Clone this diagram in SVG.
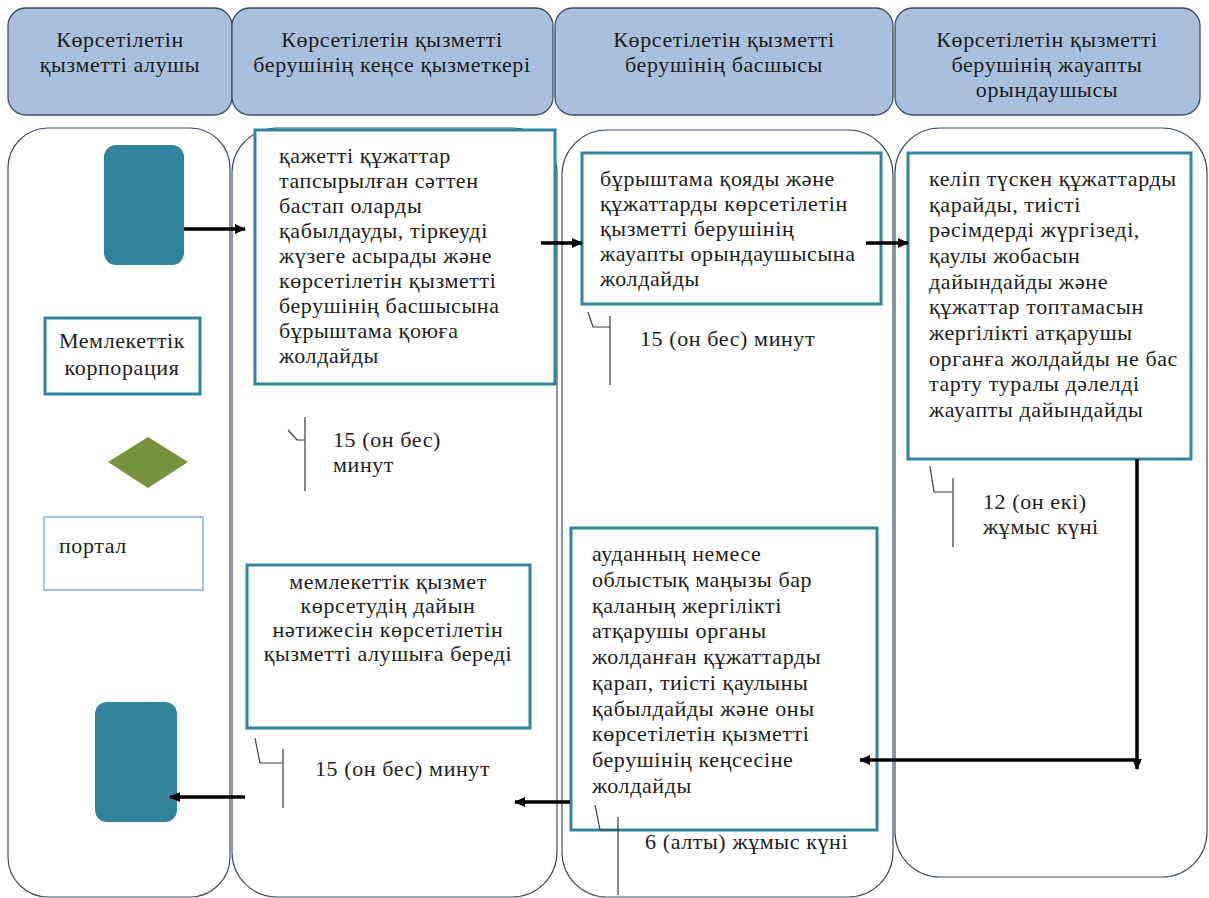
<svg xmlns="http://www.w3.org/2000/svg" width="1209" height="898" viewBox="0 0 1209 898">
<defs>
<marker id="ah" markerUnits="userSpaceOnUse" markerWidth="12" markerHeight="12" refX="10" refY="6" orient="auto">
<path d="M0,1 L11,6 L0,11 Z" fill="#000"/>
</marker>
<style>
.hdr{fill:#a8bfdd;stroke:#3e4e60;stroke-width:1.3}
.lane{fill:#fff;stroke:#3e4e60;stroke-width:1.2}
.box{fill:#fff;stroke:#31859c;stroke-width:3}
.teal{fill:#31849b}
text{font-family:'Liberation Serif','DejaVu Serif','Times New Roman',serif;font-size:22px;letter-spacing:0.6px;fill:#1c1c1c}
.c{text-anchor:middle}
.ann{fill:none;stroke:#3a3a3a;stroke-width:1.2}
.con{fill:none;stroke:#000;stroke-width:3.5}
</style>
</defs>
<rect width="1209" height="898" fill="#fff"/>
<g id="headers">
<g id="h1"><rect class="hdr" x="8" y="8" width="224" height="107" rx="18"/><text class="c" x="120" y="47">Көрсетілетін</text><text class="c" x="120" y="72">қызметті алушы</text></g>
<g id="h2"><rect class="hdr" x="232" y="8" width="321" height="107" rx="18"/><text class="c" x="392" y="47">Көрсетілетін қызметті</text><text class="c" x="392" y="72">берушінің кеңсе қызметкері</text></g>
<g id="h3"><rect class="hdr" x="555" y="8" width="338" height="107" rx="18"/><text class="c" x="724" y="47">Көрсетілетін қызметті</text><text class="c" x="724" y="72">берушінің басшысы</text></g>
<g id="h4"><rect class="hdr" x="895" y="8" width="305" height="107" rx="18"/><text class="c" x="1047" y="47">Көрсетілетін қызметті</text><text class="c" x="1047" y="72">берушінің жауапты</text><text class="c" x="1047" y="97">орындаушысы</text></g>
</g>
<g id="lanes">
<rect class="lane" x="8" y="128" width="222" height="769" rx="40"/>
<rect class="lane" x="232" y="128" width="325" height="769" rx="45"/>
<rect class="lane" x="562" y="130" width="331" height="767" rx="45"/>
<rect class="lane" x="895" y="128" width="312" height="749" rx="45"/>
</g>
<g id="start"><rect class="teal" x="104" y="145" width="80" height="120" rx="12"/></g>
<g id="corp"><rect class="box" x="45" y="318" width="155" height="76"/><text class="c" x="122" y="348">Мемлекеттік</text><text class="c" x="122" y="375">корпорация</text></g>
<g id="diamond"><polygon points="148,437 188,462 148,488 108,462" fill="#76923c"/></g>
<g id="portal"><rect x="44" y="517" width="159" height="73" fill="#fff" stroke="#4f81bd" stroke-width="1"/><text x="59" y="553">портал</text></g>
<g id="end"><rect class="teal" x="95" y="702" width="82" height="120" rx="12"/></g>
<g id="boxA"><rect class="box" x="255" y="130" width="300" height="254"/>
<text x="279" y="163">қажетті құжаттар</text>
<text x="279" y="188">тапсырылған  сәттен</text>
<text x="279" y="213">бастап оларды</text>
<text x="279" y="238">қабылдауды, тіркеуді</text>
<text x="279" y="263">жүзеге асырады  және</text>
<text x="279" y="288">көрсетілетін қызметті</text>
<text x="279" y="313">берушінің басшысына</text>
<text x="279" y="338">бұрыштама қоюға</text>
<text x="279" y="363">жолдайды</text>
</g>
<g id="boxB"><rect class="box" x="582" y="153" width="299" height="151"/>
<text x="600" y="186">бұрыштама қояды және</text>
<text x="600" y="211">құжаттарды  көрсетілетін</text>
<text x="600" y="236">қызметті берушінің</text>
<text x="600" y="261">жауапты орындаушысына</text>
<text x="600" y="286">жолдайды</text>
</g>
<g id="boxC"><rect class="box" x="908" y="153" width="283" height="306"/>
<text x="929" y="186">келіп түскен құжаттарды</text>
<text x="929" y="212">қарайды, тиісті</text>
<text x="929" y="237">рәсімдерді жүргізеді,</text>
<text x="929" y="263">қаулы жобасын</text>
<text x="929" y="289">дайындайды және</text>
<text x="929" y="314">құжаттар топтамасын</text>
<text x="929" y="340">жергілікті  атқарушы</text>
<text x="929" y="366">органға жолдайды не бас</text>
<text x="929" y="391">тарту туралы дәлелді</text>
<text x="929" y="417">жауапты дайындайды</text>
</g>
<g id="boxD"><rect class="box" x="571" y="528" width="306" height="302"/>
<text x="592" y="561">ауданның немесе</text>
<text x="592" y="587">облыстық маңызы  бар</text>
<text x="592" y="613">қаланың жергілікті</text>
<text x="592" y="638">атқарушы органы</text>
<text x="592" y="664">жолданған құжаттарды</text>
<text x="592" y="690">қарап, тиісті қаулыны</text>
<text x="592" y="716">қабылдайды және оны</text>
<text x="592" y="741">көрсетілетін қызметті</text>
<text x="592" y="767">берушінің кеңсесіне</text>
<text x="592" y="793">жолдайды</text>
</g>
<g id="boxE"><rect class="box" x="247" y="565" width="283" height="163"/>
<text class="c" x="388" y="589">мемлекеттік қызмет</text>
<text class="c" x="388" y="613">көрсетудің дайын</text>
<text class="c" x="388" y="637">нәтижесін көрсетілетін</text>
<text class="c" x="388" y="661">қызметті алушыға береді</text>
</g>
<g id="annotations">
<path class="ann" d="M288,430 L297,440 L305,440 M305,417 V491"/>
<text x="333" y="447">15 (он бес)</text><text x="333" y="472">минут</text>
<path class="ann" d="M588,312 L593,327 L610,327 M610,316 V385"/>
<text x="640" y="346">15 (он бес) минут</text>
<path class="ann" d="M930,466 L934,492 L952,492 M953,478 V547"/>
<text x="983" y="509">12 (он екі)</text><text x="983" y="534">жұмыс күні</text>
<path class="ann" d="M595,805 L600,830 L617,830 M618,817 V895"/>
<text x="645" y="849">6 (алты) жұмыс күні</text>
<path class="ann" d="M255,738 L260,763 L282,763 M283,749 V808"/>
<text x="315" y="776">15 (он бес) минут</text>
</g>
<g id="connectors">
<path class="con" d="M184,229 H245" marker-end="url(#ah)"/>
<path class="con" d="M541,243 H582" marker-end="url(#ah)"/>
<path class="con" d="M866,243 H908" marker-end="url(#ah)"/>
<path class="con" d="M1137,459 V769" marker-end="url(#ah)"/>
<path class="con" d="M1137,760 H860" marker-end="url(#ah)"/>
<path class="con" d="M570,802 H515" marker-end="url(#ah)"/>
<path class="con" d="M245,797 H170" marker-end="url(#ah)"/>
</g>
</svg>
